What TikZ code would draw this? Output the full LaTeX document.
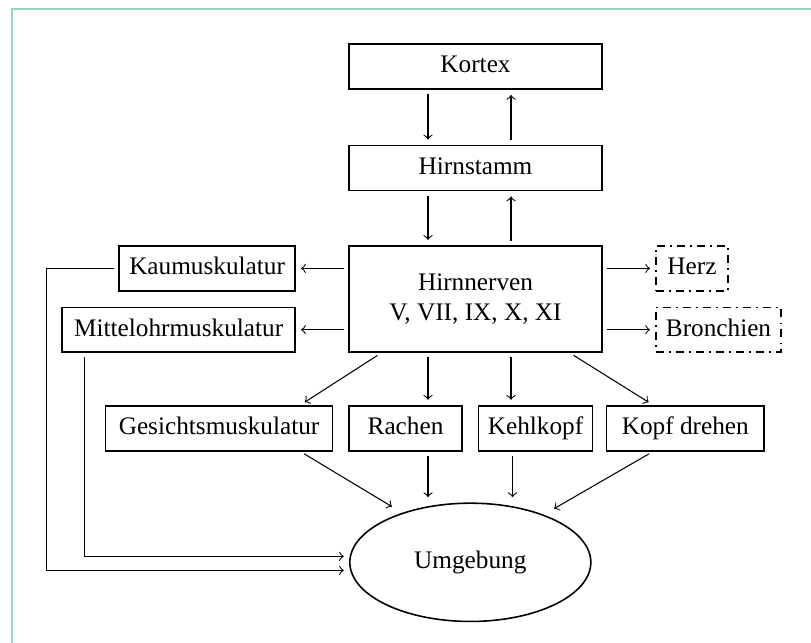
\documentclass[tikz,border=0pt]{standalone}
\usepackage{fontspec}
\setmainfont{Liberation Serif}
\usepackage{tikz}
\usetikzlibrary{positioning,calc,shapes.geometric,arrows}
\definecolor{rahmen}{RGB}{150,212,200}
\tikzstyle{rand}=[rectangle,semithick,draw=black,inner sep=0pt]
\tikzstyle{kasten}=[rand,minimum height=6mm,text height=0.68em,text depth=0.2em]
\tikzstyle{extern}=[kasten,dashdotted]
\tikzstyle{umwelt}=[ellipse,semithick,draw=black,minimum width=32.2mm,minimum height=15.8mm,inner sep=0pt,text height=0.68em,text depth=0.2em]
\tikzset{
	pfeil/.style={->,thin,shorten >=0.7mm,shorten <=0.6mm},
	schraeg/.style={pfeil,shorten >=1.6mm}
}

\begin{document}
\begin{tikzpicture}[font=\fontsize{9.6}{11.4}\selectfont]
	\useasboundingbox (0,0) rectangle (108.35mm,-85.9mm);
	\draw[rahmen,line width=0.76pt] (1.6mm,-1.25mm) rectangle (120mm,-100mm);
	\node (kor) [kasten,minimum width=33.8mm] at (63.53mm,-8.88mm) {Kortex};
	\node (hs) [kasten,minimum width=33.8mm,below=7.35mm of kor] {Hirnstamm};
	\node (hn) [rand,minimum width=33.8mm,minimum height=14.2mm,align=center,below=7.2mm of hs] {Hirnnerven\\V, VII, IX, X, XI};
	\node (kau) [kasten,minimum width=23.5mm,left=7mm of hn.north west,anchor=north east] {Kaumuskulatur};
	\node (mit) [kasten,minimum width=31.1mm,left=7mm of hn.south west,anchor=south east] {Mittelohrmuskulatur};
	\node (her) [extern,minimum width=9.6mm,right=7mm of hn.north east,anchor=north west] {Herz};
	\node (bro) [extern,minimum width=16.7mm,right=7mm of hn.south east,anchor=south west] {Bronchien};
	\node (ra) [kasten,minimum width=15.1mm,below=6.95mm of hn.south west,anchor=north west] {Rachen};
	\node (ges) [kasten,minimum width=30.3mm,left=2mm of ra] {Gesichtsmuskulatur};
	\node (ke) [kasten,minimum width=15.2mm,right=2mm of ra] {Kehlkopf};
	\node (ko) [kasten,minimum width=21mm,right=1.7mm of ke] {Kopf drehen};
	\node (umg) [umwelt,anchor=north,yshift=-6.8mm] at ($(ra.south east)!0.5!(ke.south west)$) {Umgebung};
	\draw[pfeil] ([xshift=-6.35mm]kor.south) -- ([xshift=-6.35mm]hs.north);
	\draw[pfeil] ([xshift=4.74mm]hs.north) -- ([xshift=4.74mm]kor.south);
	\draw[pfeil] ([xshift=-6.35mm]hs.south) -- ([xshift=-6.35mm]hn.north);
	\draw[pfeil] ([xshift=4.74mm]hn.north) -- ([xshift=4.74mm]hs.south);
	\draw[pfeil] (hn.west |- kau) -- (kau);
	\draw[pfeil] (hn.west |- mit) -- (mit);
	\draw[pfeil] (hn.east |- her) -- (her);
	\draw[pfeil] (hn.east |- bro) -- (bro);
	\draw[pfeil] ([xshift=-12.6mm]hn.south) -- ([xshift=-4.4mm]ges.north east);
	\draw[pfeil] ([xshift=-6.35mm]hn.south) -- ([xshift=-6.35mm]hn.south |- ra.north);
	\draw[pfeil] ([xshift=4.74mm]hn.south) -- ([xshift=4.74mm]hn.south |- ke.north);
	\draw[pfeil] ([xshift=12.6mm]hn.south) -- ([xshift=6.3mm]ko.north west);
	\draw[schraeg] ([xshift=-4.4mm]ges.south east) -- (umg.144);
	\draw[pfeil] ([xshift=3mm]ra.south) -- ([xshift=3mm]ra.south |- umg.north);
	\draw[pfeil] ([xshift=-3.07mm]ke.south) -- ([xshift=-3.07mm]ke.south |- umg.north);
	\draw[schraeg] ([xshift=6.3mm]ko.south west) -- (umg.33);
	\draw[pfeil] (kau.west) -- ++(-9.6mm,0) |- ([yshift=-1.07mm]umg.west);
	\draw[pfeil] ([xshift=3.07mm]mit.south west) |- ([yshift=0.8mm]umg.west);
\end{tikzpicture}
\end{document}
